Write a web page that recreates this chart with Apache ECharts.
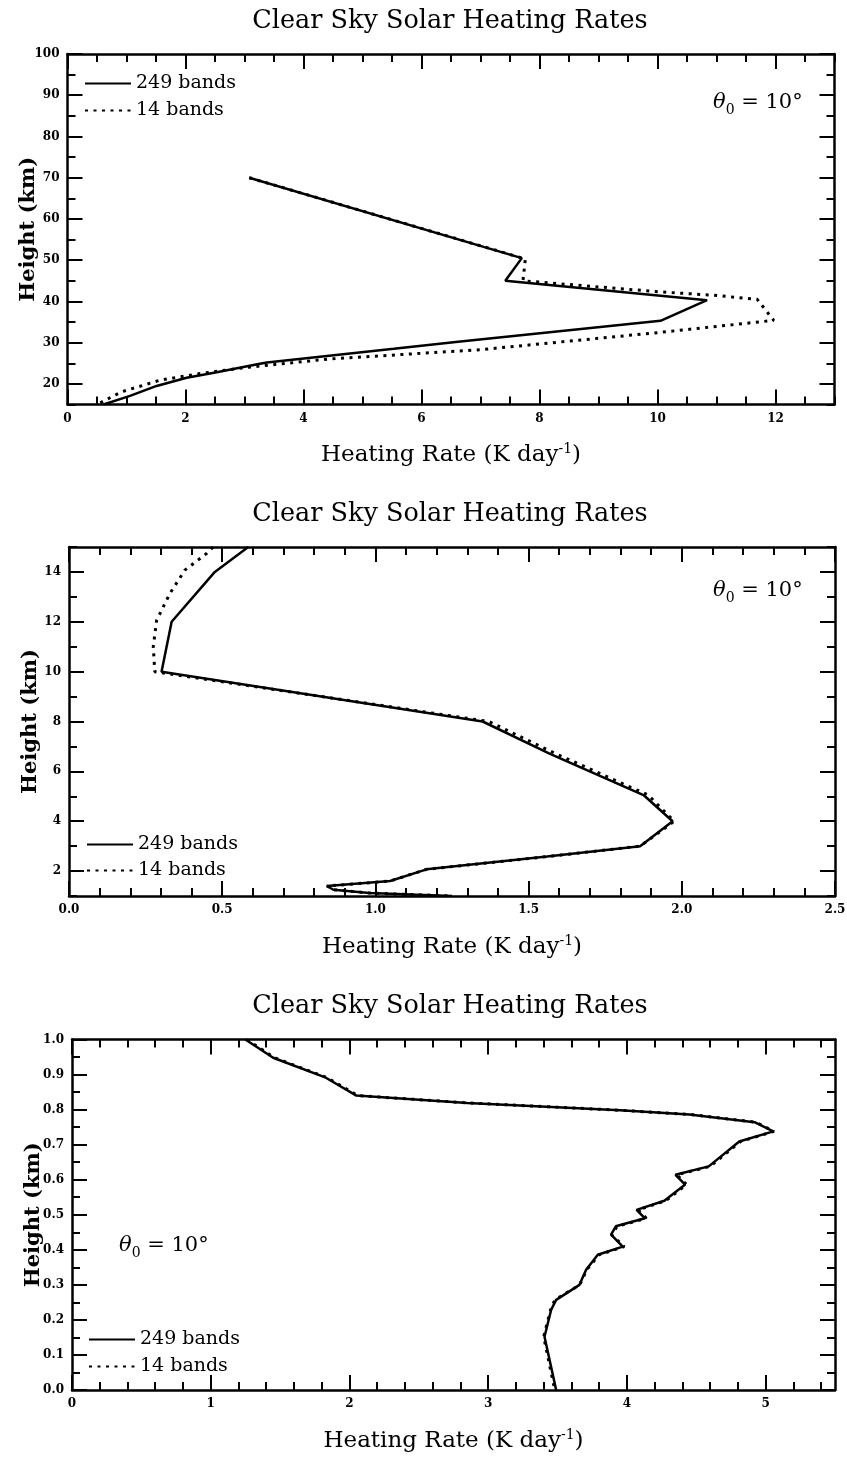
<!DOCTYPE html>
<html><head><meta charset="utf-8">
<script src="https://cdn.jsdelivr.net/npm/echarts@6/dist/echarts.min.js"></script>
<style>html,body{margin:0;background:#fff}#c{width:847px;height:1457px}</style>
</head><body><div id="c"></div>
<script>
// Panel 1: stratosphere / mesosphere (15–100 km)
const p1Height249 = [70, 50.5, 45, 40.3, 35.3, 30.3, 28.5, 25.2, 24.9, 22.8, 21.5, 19.5, 17.1, 15];
const p1Rate249   = [3.08, 7.70, 7.42, 10.84, 10.05, 6.66, 5.53, 3.38, 3.26, 2.53, 2.02, 1.51, 1.06, 0.61];
const p1Height14  = [70, 50.3, 45, 42.3, 41.5, 40.5, 35.4, 32.5, 28.3, 26.0, 24.0, 22.5, 20.9, 18.1, 15];
const p1Rate14    = [3.08, 7.76, 7.72, 10.05, 10.95, 11.69, 11.97, 10.05, 7.0, 4.4, 3.04, 2.25, 1.57, 0.92, 0.50];

// Panel 2: troposphere (1–15 km)
const p2Height249 = [15, 14, 12, 10, 8, 6.7, 5.05, 4, 3, 2.58, 2.07, 1.6, 1.4, 1.25, 1.12, 1.0];
const p2Rate249   = [0.585, 0.476, 0.335, 0.302, 1.35, 1.57, 1.875, 1.97, 1.864, 1.56, 1.167, 1.048, 0.842, 0.863, 0.98, 1.25];
const p2Height14  = [15, 14.74, 14.07, 13.13, 12.06, 11.0, 10, 8, 6.7, 5.05, 4, 3, 2.58, 2.07, 1.6, 1.4, 1.25, 1.12, 1.0];
const p2Rate14    = [0.47, 0.449, 0.378, 0.329, 0.286, 0.275, 0.28, 1.37, 1.59, 1.89, 1.975, 1.864, 1.56, 1.167, 1.048, 0.842, 0.863, 0.98, 1.25];

// Panel 3: boundary layer (0–1 km)
const p3Height249 = [1.0, 0.948, 0.891, 0.84, 0.819, 0.798, 0.786, 0.764, 0.738, 0.709, 0.638, 0.614, 0.586, 0.54, 0.514, 0.49, 0.467, 0.443, 0.409, 0.386, 0.343, 0.30, 0.257, 0.229, 0.152, 0.0];
const p3Rate249   = [1.25, 1.45, 1.83, 2.05, 2.85, 3.95, 4.45, 4.92, 5.055, 4.81, 4.59, 4.35, 4.42, 4.27, 4.07, 4.13, 3.92, 3.886, 3.97, 3.79, 3.706, 3.658, 3.49, 3.454, 3.406, 3.49];
const p3Height14  = [1.0, 0.948, 0.891, 0.84, 0.819, 0.798, 0.786, 0.764, 0.738, 0.709, 0.638, 0.614, 0.586, 0.54, 0.514, 0.49, 0.467, 0.443, 0.409, 0.386, 0.343, 0.30, 0.257, 0.229, 0.152, 0.0];
const p3Rate14    = [1.26, 1.46, 1.84, 2.06, 2.86, 3.96, 4.46, 4.93, 5.06, 4.82, 4.60, 4.36, 4.43, 4.28, 4.08, 4.14, 3.93, 3.89, 3.98, 3.80, 3.71, 3.66, 3.48, 3.45, 3.40, 3.48];

// Tick labels
const p1XTicks = [0, 2, 4, 6, 8, 10, 12];
const p1YTicks = [20, 30, 40, 50, 60, 70, 80, 90, 100];
const p2XTicks = [0, 0.5, 1.0, 1.5, 2.0, 2.5];
const p2YTicks = [2, 4, 6, 8, 10, 12, 14];
const p3XTicks = [0, 1, 2, 3, 4, 5];
const p3YTicks = [0, 0.1, 0.2, 0.3, 0.4, 0.5, 0.6, 0.7, 0.8, 0.9, 1.0];

const titleText = 'Clear Sky Solar Heating Rates';
const xName = '{a|Heating Rate (K day}{s|-1}{a|)}';
const yName = 'Height (km)';
const angleLabel = '{t|θ}{s|0}{e| = 10°}';
const seriesNames = ['249 bands', '14 bands'];

function steps(a, b, d) {
  const out = [];
  for (let v = a; v <= b + 1e-9; v += d) out.push(Math.round(v * 1000) / 1000);
  return out;
}
function zip(xs, ys) { return xs.map((x, i) => [x, ys[i]]); }

const INK = '#000';
const SERIF = 'DejaVu Serif';
const tickFont = { fontFamily: SERIF, fontWeight: 'bold', fontSize: 12, color: INK };

const panels = [
  { grid: { left: 67.5, top: 54, width: 767, height: 350.5 },
    x: [0, 13], y: [15, 100], xMajor: p1XTicks, xMinor: steps(0, 13, 0.5), yMajor: p1YTicks, yMinor: steps(15, 100, 5),
    xFmt: v => String(v), yFmt: v => String(v),
    s249: zip(p1Rate249, p1Height249), s14: zip(p1Rate14, p1Height14),
    titleTop: 8, legend: { left: 84, top: 74, gap: 8 }, angle: { left: 713, top: 85 } },
  { grid: { left: 69, top: 547, width: 766, height: 349 },
    x: [0, 2.5], y: [1, 15], xMajor: p2XTicks, xMinor: steps(0, 2.5, 0.1), yMajor: p2YTicks, yMinor: steps(1, 15, 1),
    xFmt: v => v.toFixed(1), yFmt: v => String(v),
    s249: zip(p2Rate249, p2Height249), s14: zip(p2Rate14, p2Height14),
    titleTop: 501, legend: { left: 86, top: 835, gap: 7 }, angle: { left: 713, top: 573 } },
  { grid: { left: 72, top: 1039.5, width: 763, height: 350.5 },
    x: [0, 5.5], y: [0, 1], xMajor: p3XTicks, xMinor: steps(0, 5.5, 0.2), yMajor: p3YTicks, yMinor: steps(0, 1, 0.05),
    xFmt: v => String(v), yFmt: v => v.toFixed(1),
    s249: zip(p3Rate249, p3Height249), s14: zip(p3Rate14, p3Height14),
    titleTop: 993, legend: { left: 88, top: 1330, gap: 8 }, angle: { left: 119, top: 1228 } }
];

const option = {
  backgroundColor: '#fff',
  animation: false,
  grid: [], xAxis: [], yAxis: [], series: [], title: [], legend: []
};

// every axis stays on its own edge of the frame
const frameLine = { show: true, onZero: false, lineStyle: { color: INK, width: 2.5 } };
const noLine = { show: false, onZero: false };
const longTick = (vals) => ({ show: true, inside: true, length: 15, lineStyle: { color: INK, width: 2 }, customValues: vals });
const shortTick = (vals) => ({ show: true, inside: true, length: 8, lineStyle: { color: INK, width: 2 }, customValues: vals });

panels.forEach((p) => {
  // main grid carries the frame, labels and long ticks; an overlaid twin grid carries the short ticks
  const gMain = option.grid.length;
  option.grid.push(Object.assign({ containLabel: false, outerBoundsMode: 'none' }, p.grid));
  const gTwin = option.grid.length;
  option.grid.push(Object.assign({ containLabel: false, outerBoundsMode: 'none' }, p.grid));

  const xr = { type: 'value', min: p.x[0], max: p.x[1], splitLine: { show: false } };
  const yr = { type: 'value', min: p.y[0], max: p.y[1], splitLine: { show: false } };

  const xi = option.xAxis.length;
  option.xAxis.push(Object.assign({}, xr, {
    gridIndex: gMain, position: 'bottom', axisLine: frameLine, axisTick: longTick(p.xMajor),
    axisLabel: { show: true, margin: 8, customValues: p.xMajor, formatter: p.xFmt, ...tickFont },
    name: xName, nameLocation: 'middle', nameGap: 38, nameMoveOverlap: false,
    nameTextStyle: { rich: {
      a: { fontFamily: SERIF, fontSize: 23, color: INK },
      s: { fontFamily: SERIF, fontSize: 14, color: INK, verticalAlign: 'top', padding: [0, 0, 12, 0] } } }
  }));
  option.xAxis.push(Object.assign({}, xr, {
    gridIndex: gMain, position: 'top', axisLine: frameLine, axisTick: longTick(p.xMajor), axisLabel: { show: false }
  }));
  option.xAxis.push(Object.assign({}, xr, {
    gridIndex: gTwin, position: 'bottom', axisLine: noLine, axisTick: shortTick(p.xMinor), axisLabel: { show: false }
  }));
  option.xAxis.push(Object.assign({}, xr, {
    gridIndex: gTwin, position: 'top', axisLine: noLine, axisTick: shortTick(p.xMinor), axisLabel: { show: false }
  }));

  const yi = option.yAxis.length;
  option.yAxis.push(Object.assign({}, yr, {
    gridIndex: gMain, position: 'left', axisLine: frameLine, axisTick: longTick(p.yMajor),
    axisLabel: { show: true, margin: 8, customValues: p.yMajor, formatter: p.yFmt, ...tickFont },
    name: yName, nameLocation: 'middle', nameRotate: 90, nameGap: 28, nameMoveOverlap: false,
    nameTextStyle: { fontFamily: SERIF, fontWeight: 'bold', fontSize: 21, color: INK }
  }));
  option.yAxis.push(Object.assign({}, yr, {
    gridIndex: gMain, position: 'right', axisLine: frameLine, axisTick: longTick(p.yMajor), axisLabel: { show: false }
  }));
  option.yAxis.push(Object.assign({}, yr, {
    gridIndex: gTwin, position: 'left', axisLine: noLine, axisTick: shortTick(p.yMinor), axisLabel: { show: false }
  }));
  option.yAxis.push(Object.assign({}, yr, {
    gridIndex: gTwin, position: 'right', axisLine: noLine, axisTick: shortTick(p.yMinor), axisLabel: { show: false }
  }));

  option.series.push({
    name: seriesNames[1], type: 'line', xAxisIndex: xi, yAxisIndex: yi, data: p.s14,
    showSymbol: false, symbol: 'none', silent: true,
    itemStyle: { color: INK },
    lineStyle: { color: INK, width: 3, type: [3, 5.5] }
  });
  option.series.push({
    name: seriesNames[0], type: 'line', xAxisIndex: xi, yAxisIndex: yi, data: p.s249,
    showSymbol: false, symbol: 'none', silent: true,
    itemStyle: { color: INK },
    lineStyle: { color: INK, width: 2.5, type: 'solid' }
  });

  option.title.push({
    text: titleText, left: 450, top: p.titleTop, textAlign: 'center', padding: 0,
    textStyle: { fontFamily: SERIF, fontWeight: 'normal', fontSize: 25.5, color: INK }
  });
  option.title.push({
    text: angleLabel, left: p.angle.left, top: p.angle.top, padding: 0,
    textStyle: { fontWeight: 'normal', rich: {
      t: { fontFamily: SERIF, fontStyle: 'italic', fontWeight: 'normal', fontSize: 21, color: INK, lineHeight: 28, verticalAlign: 'bottom' },
      s: { fontFamily: SERIF, fontWeight: 'normal', fontSize: 14, color: INK, lineHeight: 28, verticalAlign: 'bottom', padding: [0, 0, -4, 0] },
      e: { fontFamily: SERIF, fontWeight: 'normal', fontSize: 21, color: INK, lineHeight: 28, verticalAlign: 'bottom' } } }
  });

  option.legend.push({
    data: seriesNames, orient: 'vertical', left: p.legend.left, top: p.legend.top,
    padding: 0, itemGap: p.legend.gap, itemWidth: 46, itemHeight: 20, selectedMode: false,
    itemStyle: { color: 'rgba(0,0,0,0)', borderWidth: 0, opacity: 0 },
    textStyle: { fontFamily: SERIF, fontSize: 19, color: INK }
  });
});

const chart = echarts.init(document.getElementById('c'), null, { renderer: 'canvas' });
chart.setOption(option);
</script></body></html>
